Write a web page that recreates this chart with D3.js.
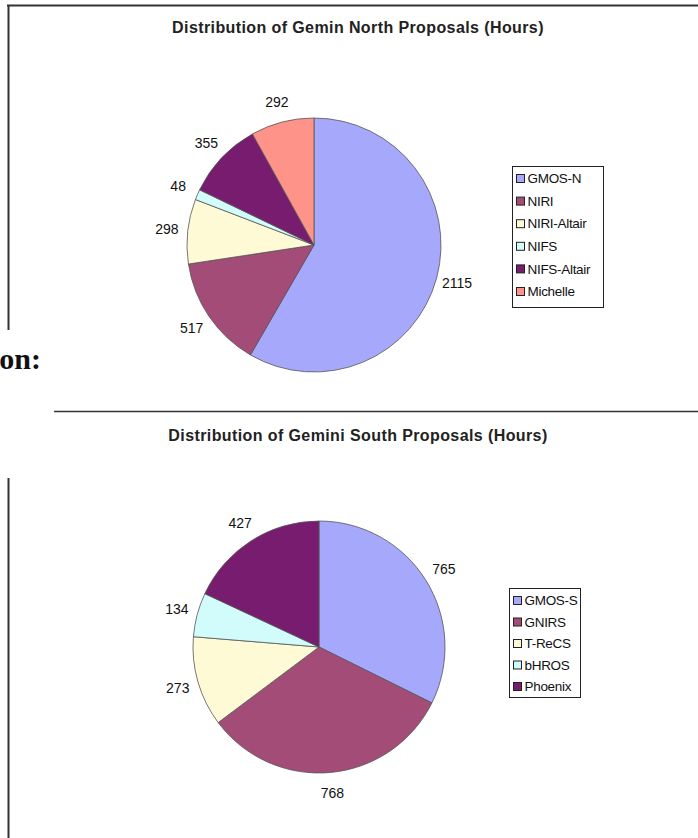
<!DOCTYPE html>
<html><head><meta charset="utf-8">
<script src="https://cdn.jsdelivr.net/npm/d3@7"></script>
<style>body{margin:0;background:#fff}svg{display:block}</style>
</head><body>
<svg id="c" width="698" height="838"></svg>
<script>
const northCategories = ["GMOS-N","NIRI","NIRI-Altair","NIFS","NIFS-Altair","Michelle"];
const northValues = [2115,517,298,48,355,292];
const southCategories = ["GMOS-S","GNIRS","T-ReCS","bHROS","Phoenix"];
const southValues = [765,768,273,134,427];
const northColors = ["#a5a8fb","#a44c78","#fffad6","#d2fbfb","#781c6f","#fd9389"];
const southColors = ["#a5a8fb","#a44c78","#fffad6","#d2fbfb","#781c6f"];

const svg = d3.select("#c");
const font = "'Liberation Sans', Arial, sans-serif";

// page decorations (document frame fragments)
svg.append("line").attr("x1",7).attr("x2",698).attr("y1",5.5).attr("y2",5.5).attr("stroke","#333").attr("stroke-width",2);
svg.append("line").attr("x1",8.5).attr("x2",8.5).attr("y1",5).attr("y2",330).attr("stroke","#333").attr("stroke-width",2);
svg.append("line").attr("x1",8.5).attr("x2",8.5).attr("y1",478).attr("y2",838).attr("stroke","#333").attr("stroke-width",2);
svg.append("line").attr("x1",54).attr("x2",698).attr("y1",411.5).attr("y2",411.5).attr("stroke","#333").attr("stroke-width",1.5);
svg.append("text").attr("x",41).attr("y",369).attr("text-anchor","end")
  .attr("font-family","'Liberation Serif', 'Times New Roman', serif").attr("font-weight","bold")
  .attr("font-size",30).attr("fill","#111").text("on:");

function drawPie(cfg){
  const {cats, vals, colors, cx, cy, r, title, titleY, lx, ly, lw, lh, step} = cfg;
  svg.append("text").attr("x",358).attr("y",titleY).attr("text-anchor","middle")
    .attr("font-family",font).attr("font-weight","bold").attr("font-size",16)
    .attr("letter-spacing","0.4").attr("fill","#222").text(title);
  const pie = d3.pie().sort(null).value(d=>d.v);
  const data = pie(cats.map((c,i)=>({c, v: vals[i], col: colors[i]})));
  const arc = d3.arc().innerRadius(0).outerRadius(r);
  const labelArc = d3.arc().innerRadius(r+21).outerRadius(r+21);
  const g = svg.append("g").attr("transform",`translate(${cx},${cy})`);
  g.selectAll("path").data(data).join("path")
    .attr("d",arc).attr("fill",d=>d.data.col).attr("stroke","#555").attr("stroke-width",0.8);
  g.selectAll("text").data(data).join("text")
    .attr("transform",d=>`translate(${labelArc.centroid(d)})`)
    .attr("text-anchor","middle").attr("dy","0.35em")
    .attr("font-family",font).attr("font-size",14).attr("fill","#111")
    .text(d=>d.data.v);
  // legend
  const lg = svg.append("g").attr("transform",`translate(${lx},${ly})`);
  lg.append("rect").attr("width",lw).attr("height",lh).attr("fill","#fff").attr("stroke","#222").attr("stroke-width",1);
  const it = lg.selectAll("g").data(data).join("g").attr("transform",(d,i)=>`translate(4,${12+i*step})`);
  it.append("rect").attr("x",0).attr("y",-4).attr("width",8).attr("height",8)
    .attr("fill",d=>d.data.col).attr("stroke","#222").attr("stroke-width",1);
  it.append("text").attr("x",11).attr("y",0).attr("dy","0.35em")
    .attr("font-family",font).attr("font-size",13.5).attr("letter-spacing","-0.3").attr("fill","#111")
    .text(d=>d.data.c);
}

drawPie({cats:northCategories, vals:northValues, colors:northColors, cx:314, cy:245, r:127,
  title:"Distribution of Gemin North Proposals (Hours)", titleY:33,
  lx:512.5, ly:166.5, lw:91, lh:141, step:22.6});
drawPie({cats:southCategories, vals:southValues, colors:southColors, cx:319, cy:647, r:126,
  title:"Distribution of Gemini South Proposals (Hours)", titleY:441,
  lx:509.5, ly:588.5, lw:71, lh:109, step:21.5});
</script>
</body></html>
